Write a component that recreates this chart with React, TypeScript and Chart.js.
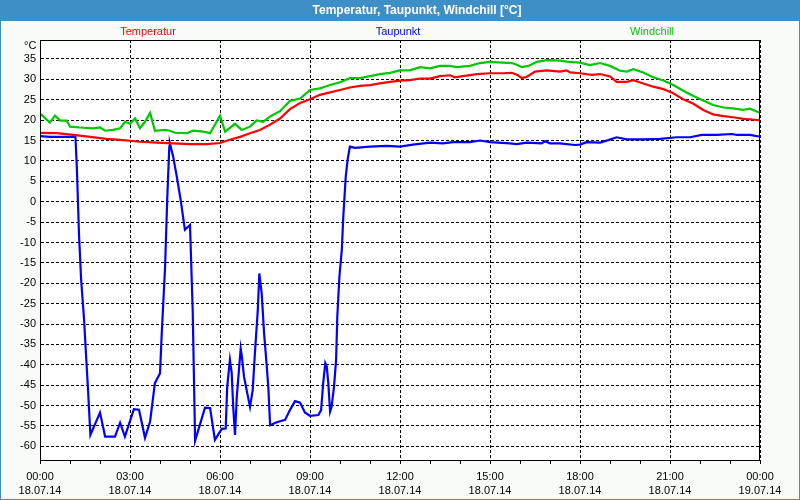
import React, { useEffect, useRef } from "react";
import { Chart, registerables } from "chart.js";

Chart.register(...registerables);

const TITLE = "Temperatur, Taupunkt, Windchill [°C]";
const SERIES_NAMES = ["Temperatur", "Taupunkt", "Windchill"];
const UNIT = "°C";

const X_TICK_TIMES = ["00:00", "03:00", "06:00", "09:00", "12:00", "15:00", "18:00", "21:00", "00:00"];
const X_TICK_DATES = ["18.07.14", "18.07.14", "18.07.14", "18.07.14", "18.07.14", "18.07.14", "18.07.14", "18.07.14", "19.07.14"];
const X_TICK_HOURS = [0, 3, 6, 9, 12, 15, 18, 21, 24];
const X_MINOR_HOURS = [0, 1, 2, 3, 4, 5, 6, 7, 8, 9, 10, 11, 12, 13, 14, 15, 16, 17, 18, 19, 20, 21, 22, 23, 24];
const Y_TICKS = [35, 30, 25, 20, 15, 10, 5, 0, -5, -10, -15, -20, -25, -30, -35, -40, -45, -50, -55, -60];
const Y_MIN = -63.34;
const Y_MAX = 39.65;

// Temperatur
const tempHours = [0, 0.56, 1.11, 1.67, 2.22, 2.78, 3.33, 3.89, 4.44, 5.0, 5.56, 6.0, 6.33, 6.67, 7.0, 7.33, 7.67, 8.0, 8.33, 8.67, 9.0, 9.33, 9.67, 10.0, 10.33, 10.67, 11.0, 11.33, 11.67, 12.0, 12.33, 12.67, 13.0, 13.33, 13.67, 13.83, 14.1, 14.56, 15.0, 15.43, 15.73, 15.93, 16.06, 16.22, 16.5, 16.89, 17.33, 17.56, 17.67, 18.0, 18.39, 18.67, 19.0, 19.22, 19.56, 19.78, 20.11, 20.44, 20.78, 21.11, 21.44, 21.78, 22.11, 22.44, 22.78, 23.11, 23.44, 23.83, 24.0];
const tempValues = [16.9, 16.8, 16.4, 15.9, 15.4, 15.1, 14.7, 14.5, 14.3, 14.1, 14.1, 14.4, 15.2, 15.9, 16.8, 17.6, 18.9, 20.4, 22.7, 24.2, 25.1, 26.2, 26.8, 27.4, 28.0, 28.4, 28.6, 29.0, 29.4, 29.7, 29.8, 30.2, 30.2, 30.8, 31.0, 30.5, 30.8, 31.3, 31.5, 31.5, 31.6, 31.0, 30.3, 30.6, 31.9, 32.2, 31.9, 32.2, 31.7, 31.5, 31.1, 31.3, 30.7, 29.4, 29.4, 29.8, 29.0, 28.2, 27.6, 26.6, 25.1, 24.0, 22.5, 21.4, 21.0, 20.7, 20.3, 20.1, 20.0];

// Taupunkt
const dewHours = [0, 0.33, 1.13, 1.18, 1.23, 1.3, 1.37, 1.47, 1.53, 1.6, 1.68, 2.0, 2.17, 2.5, 2.67, 2.83, 3.13, 3.3, 3.5, 3.67, 3.83, 4.0, 4.06, 4.17, 4.24, 4.31, 4.33, 4.44, 4.56, 4.69, 4.83, 5.0, 5.09, 5.17, 5.5, 5.67, 5.83, 6.06, 6.19, 6.24, 6.33, 6.39, 6.44, 6.5, 6.56, 6.64, 6.69, 6.73, 6.8, 6.91, 7.0, 7.09, 7.17, 7.26, 7.31, 7.39, 7.47, 7.56, 7.61, 7.67, 7.89, 8.17, 8.33, 8.5, 8.67, 8.83, 9.0, 9.28, 9.37, 9.44, 9.51, 9.56, 9.61, 9.67, 9.72, 9.8, 9.87, 9.91, 9.98, 10.06, 10.11, 10.19, 10.26, 10.33, 10.5, 11.0, 11.56, 12.0, 12.43, 13.0, 13.43, 13.77, 14.33, 14.67, 15.0, 15.67, 15.89, 16.22, 16.72, 16.83, 17.0, 17.33, 17.83, 18.0, 18.22, 18.67, 18.94, 19.22, 19.56, 20.1, 20.67, 21.22, 21.67, 22.06, 22.56, 23.06, 23.22, 23.67, 23.89, 24.0];
const dewValues = [16.1, 15.9, 15.9, 16.1, 8, -8, -19, -29, -37, -46, -57.2, -51.7, -57.6, -57.6, -54.2, -57.6, -50.9, -51.0, -57.9, -53.9, -44.5, -42.1, -32, -15.9, 0.4, 13.5, 14.3, 11, 6.1, 0.4, -6.9, -5.7, -26.6, -58.6, -50.5, -50.6, -58.4, -55.7, -55.6, -45.4, -38.8, -42, -50.3, -57.2, -47.8, -40.5, -36, -38, -42.9, -47, -50.3, -46.2, -36.4, -26.6, -17.6, -22.5, -32.3, -40.5, -45.4, -54.8, -54.1, -53.5, -51.1, -48.9, -49.3, -51.7, -52.5, -52.3, -51.1, -44.5, -39.6, -40.5, -44.5, -51.5, -50.3, -45.4, -38.8, -28.2, -18.4, -11.8, -3.7, 6.1, 10.6, 13.5, 13.2, 13.5, 13.7, 13.5, 14.0, 14.5, 14.3, 14.6, 14.6, 15.0, 14.6, 14.3, 14.1, 14.5, 14.3, 14.8, 14.3, 14.3, 13.9, 14.0, 14.6, 14.5, 15.1, 15.8, 15.3, 15.3, 15.4, 15.8, 15.8, 16.4, 16.4, 16.6, 16.4, 16.4, 16.1, 16.0];

// Windchill
const chillHours = [0, 0.33, 0.5, 0.67, 0.89, 1.0, 1.33, 1.77, 2.0, 2.17, 2.43, 2.67, 2.83, 3.0, 3.17, 3.33, 3.5, 3.67, 3.83, 4.17, 4.33, 4.5, 4.89, 5.11, 5.44, 5.67, 6.0, 6.17, 6.5, 6.72, 7.0, 7.22, 7.44, 7.67, 8.0, 8.33, 8.67, 9.0, 9.33, 9.67, 10.0, 10.33, 10.67, 11.0, 11.33, 11.67, 12.0, 12.33, 12.67, 13.0, 13.33, 13.67, 13.89, 14.33, 14.67, 15.0, 15.43, 15.73, 15.89, 16.06, 16.28, 16.56, 16.89, 17.33, 17.61, 18.0, 18.33, 18.67, 19.0, 19.33, 19.56, 19.78, 20.11, 20.44, 20.78, 21.11, 21.44, 21.78, 22.11, 22.44, 22.78, 23.11, 23.44, 23.67, 23.89, 24.0];
const chillValues = [21.6, 19.4, 21.1, 19.9, 19.9, 18.4, 18.2, 18.0, 18.2, 17.4, 17.6, 18.0, 19.6, 19.1, 20.4, 18.0, 19.6, 21.8, 17.4, 17.6, 17.4, 16.9, 16.8, 17.4, 17.2, 16.8, 21.1, 17.2, 19.1, 17.6, 18.4, 19.9, 19.6, 20.9, 22.2, 24.7, 25.3, 27.4, 27.8, 28.6, 29.3, 30.3, 30.3, 30.8, 31.3, 31.6, 32.2, 32.2, 33.0, 32.7, 33.3, 33.3, 33.0, 33.3, 34.0, 34.3, 34.1, 34.0, 33.6, 33.0, 33.3, 34.3, 34.7, 34.6, 34.3, 34.1, 33.5, 34.0, 33.3, 32.1, 31.9, 32.5, 31.7, 30.5, 29.7, 28.6, 27.2, 25.9, 24.8, 23.7, 23.1, 22.9, 22.5, 22.8, 22.1, 21.9];

const COLORS = ["#ff0000", "#0000ff", "#00c800"];
const FONT = "'Liberation Sans', Arial, sans-serif";
const BAR = "#3d8fc6";

const toPoints = (hs: number[], vs: number[]) => hs.map((h, i) => ({ x: h, y: vs[i] }));

const framePlugin = {
  id: "frame",
  beforeDraw(chart: any) {
    const { ctx, width, height, chartArea } = chart;
    ctx.save();
    ctx.fillStyle = "#f8fbf8";
    ctx.fillRect(0, 0, width, height);
    ctx.fillStyle = "#ffffff";
    ctx.fillRect(chartArea.left, chartArea.top, chartArea.right - chartArea.left, chartArea.bottom - chartArea.top);
    ctx.fillStyle = BAR;
    ctx.fillRect(0, 0, width, 21);
    ctx.strokeStyle = BAR;
    ctx.lineWidth = 1;
    ctx.strokeRect(0.5, 0.5, width - 1, height - 1);
    ctx.restore();
  },
  afterDraw(chart: any) {
    const { ctx, chartArea } = chart;
    ctx.save();
    ctx.strokeStyle = "#000";
    ctx.lineWidth = 1;
    ctx.strokeRect(chartArea.left + 0.5, chartArea.top + 0.5, chartArea.right - chartArea.left - 1, chartArea.bottom - chartArea.top);
    ctx.textBaseline = "middle";
    ctx.textAlign = "center";
    ctx.fillStyle = "#ffffff";
    ctx.font = `bold 12px ${FONT}`;
    ctx.fillText(TITLE, 417, 11);
    ctx.font = `11px ${FONT}`;
    const lx = [148, 398, 652];
    SERIES_NAMES.forEach((n, i) => {
      ctx.fillStyle = COLORS[i];
      ctx.fillText(n, lx[i], 32);
    });
    ctx.fillStyle = "#000";
    ctx.textAlign = "left";
    ctx.fillText(UNIT, 24, 46);
    ctx.restore();
  },
};

export default function App() {
  const ref = useRef<HTMLCanvasElement>(null);
  useEffect(() => {
    if (!ref.current) return;
    const chart = new Chart(ref.current, {
      type: "line",
      data: {
        datasets: [
          { label: SERIES_NAMES[0], data: toPoints(tempHours, tempValues), borderColor: COLORS[0], backgroundColor: COLORS[0] },
          { label: SERIES_NAMES[1], data: toPoints(dewHours, dewValues), borderColor: COLORS[1], backgroundColor: COLORS[1] },
          { label: SERIES_NAMES[2], data: toPoints(chillHours, chillValues), borderColor: COLORS[2], backgroundColor: COLORS[2] },
        ],
      },
      options: {
        animation: false,
        responsive: false,
        devicePixelRatio: 1,
        layout: { padding: { top: 40, right: 40, left: 0, bottom: 0 } },
        elements: { point: { radius: 0 }, line: { borderWidth: 2.2, tension: 0 } },
        plugins: { legend: { display: false }, title: { display: false }, tooltip: { enabled: false } },
        scales: {
          x: {
            type: "linear",
            min: 0,
            max: 24,
            afterBuildTicks: (s: any) => {
              s.ticks = X_MINOR_HOURS.map((v) => ({ value: v }));
            },
            afterFit: (s: any) => {
              s.height = 40;
            },
            ticks: {
              autoSkip: false,
              maxRotation: 0,
              minRotation: 0,
              padding: 6,
              color: "#000",
              font: { family: FONT, size: 11, lineHeight: 1.3 },
              callback: (v: any) => {
                const i = X_TICK_HOURS.indexOf(Number(v));
                return i >= 0 ? [X_TICK_TIMES[i], X_TICK_DATES[i]] : "";
              },
            },
            grid: {
              color: (c: any) => (c.tick && X_TICK_HOURS.indexOf(c.tick.value) >= 0 ? "#000" : "rgba(0,0,0,0)"),
              tickColor: "#000",
              tickLength: 4,
              tickBorderDash: [],
              lineWidth: 1,
            },
            border: { display: true, color: "#000", width: 1, dash: [3, 2] },
          },
          y: {
            type: "linear",
            min: Y_MIN,
            max: Y_MAX,
            afterBuildTicks: (s: any) => {
              s.ticks = Y_TICKS.map((v) => ({ value: v }));
            },
            afterFit: (s: any) => {
              s.width = 40;
            },
            ticks: { padding: 4, color: "#000", font: { family: FONT, size: 11 } },
            grid: { color: "#000", drawTicks: false, lineWidth: 1 },
            border: { display: true, color: "#000", width: 1, dash: [3, 2] },
          },
        },
      },
      plugins: [framePlugin],
    } as any);
    return () => chart.destroy();
  }, []);
  return (
    <div style={{ position: "fixed", left: 0, top: 0, width: 800, height: 500 }}>
      <canvas ref={ref} width={800} height={500} style={{ width: 800, height: 500, display: "block" }} />
    </div>
  );
}
